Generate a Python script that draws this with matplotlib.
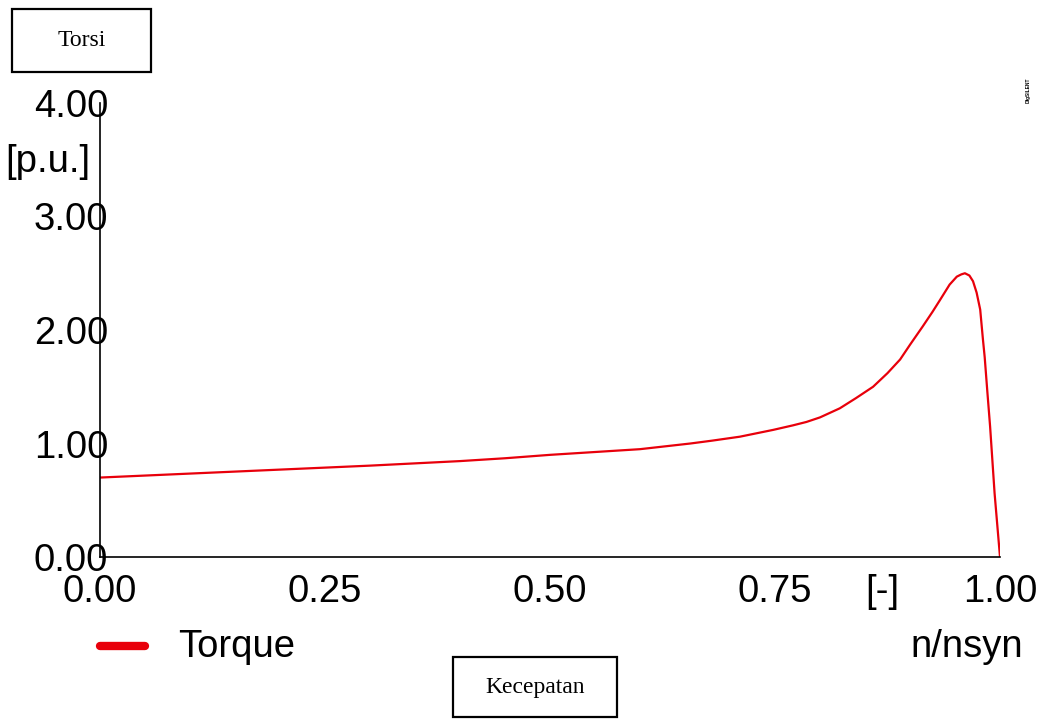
import matplotlib
matplotlib.use("Agg")
import matplotlib.pyplot as plt
from matplotlib.patches import Rectangle

# speed n/nsyn and torque [p.u.]
speed = [0.0, 0.1, 0.2, 0.3, 0.4, 0.45, 0.5, 0.55, 0.6, 0.656, 0.68, 0.711,
         0.748, 0.77, 0.785, 0.80, 0.822, 0.84, 0.859, 0.875, 0.889, 0.90,
         0.914, 0.925, 0.933, 0.944, 0.952, 0.957, 0.961, 0.966, 0.970,
         0.974, 0.978, 0.981, 0.983, 0.986, 0.989, 0.994, 0.997, 1.0]
torque = [0.70, 0.735, 0.77, 0.805, 0.845, 0.87, 0.90, 0.925, 0.95, 1.00,
          1.025, 1.06, 1.12, 1.16, 1.19, 1.23, 1.31, 1.40, 1.50, 1.62, 1.74,
          1.87, 2.03, 2.16, 2.26, 2.40, 2.47, 2.49, 2.50, 2.48, 2.43, 2.33,
          2.18, 1.92, 1.76, 1.45, 1.15, 0.56, 0.28, 0.0]
xticks = [0.0, 0.25, 0.5, 0.75, 1.0]
yticks = [0.0, 1.0, 2.0, 3.0, 4.0]

W, H = 1047, 720
fig = plt.figure(figsize=(W / 100, H / 100), dpi=100)
fig.patch.set_facecolor("white")

sans = "Liberation Sans"
serif = "Liberation Serif"
fs = 27.5

ax = fig.add_axes([100 / W, (H - 557) / H, 900 / W, (557 - 103) / H])
ax.plot(speed, torque, color="#e8000b", lw=1.6, solid_joinstyle="round")
ax.set_xlim(0, 1)
ax.set_ylim(0, 4)
ax.set_xticks(xticks)
ax.set_yticks(yticks)
ax.set_xticklabels(["%.2f" % v for v in xticks], family=sans, fontsize=fs)
ax.set_yticklabels(["%.2f" % v for v in yticks], family=sans, fontsize=fs)
ax.tick_params(axis="both", length=0)
ax.tick_params(axis="y", pad=-6)
ax.tick_params(axis="x", pad=12)
for s in ["top", "right"]:
    ax.spines[s].set_visible(False)
for s in ["left", "bottom"]:
    ax.spines[s].set_linewidth(1.2)

# unit labels and legend
fig.text(5 / W, 1 - 162 / H, "[p.u.]", family=sans, fontsize=fs, va="center", ha="left")
fig.text(882 / W, 1 - 592 / H, "[-]", family=sans, fontsize=fs, va="center", ha="center")
fig.text(1023 / W, 1 - 647 / H, "n/nsyn", family=sans, fontsize=fs, va="center", ha="right")
fig.add_artist(plt.Line2D([100 / W, 145 / W], [1 - 646 / H, 1 - 646 / H],
                          color="#e8000b", lw=6, solid_capstyle="round"))
fig.text(178 / W, 1 - 647 / H, "Torque", family=sans, fontsize=fs, va="center", ha="left")
fig.text(1028 / W, 1 - 90 / H, "DIgSILENT", family=sans, fontsize=3.5, rotation=90,
         va="center", ha="center", weight="bold")

# annotation boxes
def box(x0, y0, x1, y1, label):
    fig.add_artist(Rectangle((x0 / W, 1 - y1 / H), (x1 - x0) / W, (y1 - y0) / H,
                             fill=False, edgecolor="black", lw=1.6,
                             transform=fig.transFigure))
    fig.text((x0 + x1) / 2 / W, 1 - (y0 + y1) / 2 / H, label, family=serif,
             fontsize=17, ha="center", va="center")

box(12, 9, 151, 72, "Torsi")
box(453, 657, 617, 717, "Kecepatan")

fig.savefig("out.png", dpi=100)
